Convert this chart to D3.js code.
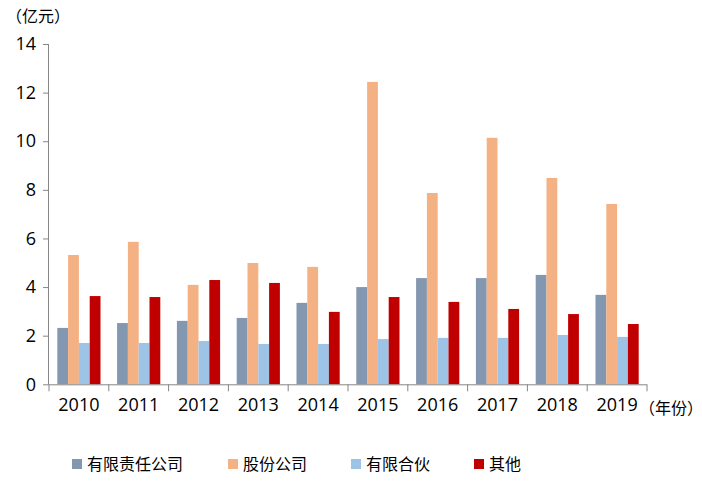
<!DOCTYPE html>
<html><head><meta charset="utf-8">
<script src="https://cdn.jsdelivr.net/npm/d3@7"></script>
<style>
body{margin:0;background:#fff;}
text{font-family:"Noto Sans CJK SC","Microsoft YaHei",sans-serif;text-spacing-trim:space-all;}
</style></head>
<body><svg id="c" width="702" height="486"></svg>
<script>
const years = ["2010","2011","2012","2013","2014","2015","2016","2017","2018","2019"];
const seriesNames = ["有限责任公司","股份公司","有限合伙","其他"];
const llc = [2.32,2.52,2.61,2.73,3.35,4.00,4.37,4.37,4.50,3.68];
const joint = [5.32,5.86,4.09,4.99,4.83,12.44,7.87,10.14,8.49,7.42];
const lp = [1.70,1.70,1.78,1.66,1.66,1.86,1.91,1.91,2.03,1.95];
const other = [3.63,3.59,4.29,4.17,2.98,3.59,3.39,3.10,2.89,2.48];
const yTicks = [0,2,4,6,8,10,12,14];
const colors = ["#8497B0","#F4B183","#9DC3E6","#C00000"];

const allSeries = [llc, joint, lp, other];
const svg = d3.select("#c");
const x0 = 49, x1 = 647, yTop = 44, yBot = 384.3;
const x = d3.scaleBand().domain(years).range([x0, x1]);
const inner = d3.scaleBand().domain(d3.range(4)).range([8.3, x.bandwidth()-8.3]);
const y = d3.scaleLinear().domain([0,14]).range([yBot, yTop]);
const axisColor = "#868686";

// bars
const g = svg.append("g");
years.forEach((yr, i) => {
  allSeries.forEach((s, k) => {
    g.append("rect")
      .attr("x", x(yr) + inner(k))
      .attr("y", y(s[i]))
      .attr("width", inner.bandwidth())
      .attr("height", y(0) - y(s[i]))
      .attr("fill", colors[k]);
  });
});

// y axis
const ya = svg.append("g").attr("transform", `translate(${x0},0)`)
  .call(d3.axisLeft(y).tickValues(yTicks).tickSize(6).tickPadding(7).tickFormat(d3.format("d")));
ya.select(".domain").attr("stroke", axisColor).attr("d", `M-0.5,${yTop}V${yBot}`);
ya.selectAll(".tick line").attr("stroke", axisColor);
ya.selectAll(".tick text").attr("font-size", 18).attr("fill", "#000")
  .style("font-family", "'Open Sans', sans-serif");

// x axis
const xa = svg.append("g").attr("transform", `translate(0,${yBot})`)
  .call(d3.axisBottom(x).tickSize(0).tickPadding(14));
xa.select(".domain").attr("stroke", axisColor).attr("d", `M${x0},0.5H${x1}`);
xa.selectAll(".tick text").attr("font-size", 18).attr("fill", "#000")
  .style("font-family", "'Open Sans', sans-serif");
const bounds = years.map(d => x(d)).concat([x1]);
svg.append("g").selectAll("line").data(bounds).join("line")
  .attr("x1", d => d).attr("x2", d => d)
  .attr("y1", yBot).attr("y2", yBot + 7)
  .attr("stroke", axisColor);

// unit labels
svg.append("text").attr("x", 6).attr("y", 22).attr("font-size", 16).attr("fill", "#000").text("（亿元）");
svg.append("text").attr("x", 639).attr("y", 414).attr("font-size", 16).attr("fill", "#000").text("（年份）");

// legend
const legX = [72, 228, 351, 474];
const lg = svg.append("g");
seriesNames.forEach((n, k) => {
  lg.append("rect").attr("x", legX[k]).attr("y", 459).attr("width", 10).attr("height", 10).attr("fill", colors[k]);
  lg.append("text").attr("x", legX[k] + 15).attr("y", 470).attr("font-size", 16).attr("fill", "#000").text(n);
});
</script></body></html>
